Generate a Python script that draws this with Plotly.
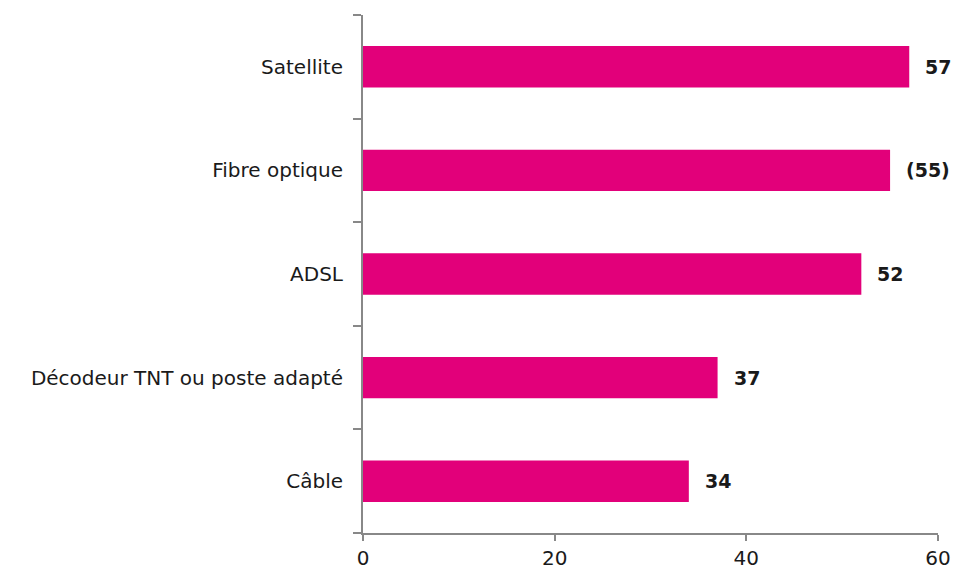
import plotly.graph_objects as go

categories = ["Câble", "Décodeur TNT ou poste adapté", "ADSL", "Fibre optique", "Satellite"]
values = [34, 37, 52, 55, 57]
labels = ["34", "37", "52", "(55)", "57"]

fig = go.Figure()
fig.add_trace(go.Bar(
    y=categories, x=values, orientation="h",
    marker=dict(color="#E2007A", line=dict(width=0)),
    width=0.4,
))

# value labels to the right of each bar
for c, v, t in zip(categories, values, labels):
    fig.add_annotation(x=v, y=c, text="<b>" + t + "</b>", showarrow=False,
                       xanchor="left", xshift=14,
                       font=dict(size=19, color="#1a1a1a"))

font_fam = "DejaVu Sans, Verdana, sans-serif"
fig.update_layout(
    width=951, height=561,
    margin=dict(l=355, r=21, t=7, b=36, autoexpand=False),
    plot_bgcolor="white", paper_bgcolor="white",
    font=dict(family=font_fam, size=20, color="#1a1a1a"),
    showlegend=False,
)
fig.update_xaxes(range=[0, 60], tickvals=[0, 20, 40, 60], showgrid=False,
                 zeroline=False, showline=True, linecolor="#888888", linewidth=2,
                 ticks="outside", ticklen=6, tickcolor="#888888", tickwidth=2,
                 tickfont=dict(size=20))
fig.update_yaxes(showgrid=False, zeroline=False, showline=True,
                 linecolor="#888888", linewidth=2,
                 ticks="outside", tickson="boundaries", ticklen=8,
                 tickcolor="#888888", tickwidth=2, ticklabelstandoff=14,
                 tickfont=dict(size=20))

fig.write_html("out.html")
